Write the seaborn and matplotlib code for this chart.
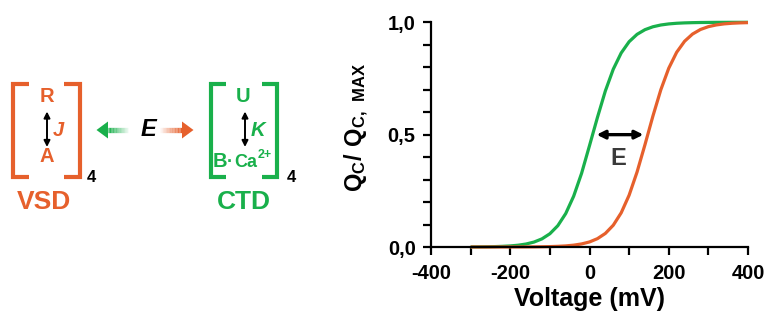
import numpy as np
import pandas as pd
import matplotlib
matplotlib.use("Agg")
import matplotlib.pyplot as plt
import matplotlib.ticker as mticker
from matplotlib.patches import Polygon
import seaborn as sns

# ---------------- data ----------------
voltage = list(range(-300, 401, 20))
q_green = [0.0004, 0.0006, 0.0010, 0.0017, 0.0029, 0.0048, 0.0080, 0.0133, 0.0220,
           0.0362, 0.0590, 0.0948, 0.1489, 0.2260, 0.3278, 0.4511, 0.5764, 0.6945,
           0.7914, 0.8636, 0.9137, 0.9464, 0.9672, 0.9801, 0.9880, 0.9928, 0.9957,
           0.9974, 0.9984, 0.9991, 0.9994, 0.9997, 0.9998, 0.9999, 0.9999, 1.0]
q_orange = [0.0000, 0.0000, 0.0000, 0.0001, 0.0001, 0.0001, 0.0002, 0.0004, 0.0006,
            0.0011, 0.0018, 0.0030, 0.0049, 0.0082, 0.0136, 0.0225, 0.0371, 0.0604,
            0.0970, 0.1522, 0.2306, 0.3336, 0.4554, 0.5825, 0.6998, 0.7956, 0.8667,
            0.9157, 0.9477, 0.9680, 0.9806, 0.9883, 0.9930, 0.9958, 0.9975, 0.9985]
series_names = ["CTD", "VSD"]
x_ticks = [-400, -200, 0, 200, 400]
y_ticks = [0.0, 0.5, 1.0]
shift_arrow = [18, 136]   # E arrow span at Q = 0.5

GREEN = "#19B04B"
ORANGE = "#E6602C"

df = pd.DataFrame({
    "Voltage": voltage * 2,
    "Q": q_green + q_orange,
    "series": [series_names[0]] * len(voltage) + [series_names[1]] * len(voltage),
})

sns.set_theme(style="ticks")
plt.rcParams["font.family"] = ["Liberation Sans", "DejaVu Sans"]
plt.rcParams["font.weight"] = "bold"
plt.rcParams["axes.unicode_minus"] = False
plt.rcParams["mathtext.fontset"] = "custom"
plt.rcParams["mathtext.bf"] = "Liberation Sans:bold"
plt.rcParams["mathtext.rm"] = "Liberation Sans:bold"

W, H = 765, 320
fig = plt.figure(figsize=(W / 100, H / 100), dpi=100)

# ---------------- diagram (left) ----------------
axd = fig.add_axes([0, 0, 1, 1], zorder=0)
axd.set_xlim(0, W)
axd.set_ylim(H, 0)
axd.axis("off")

blw = 3.0
def bracket(xl, xr, top, bot, serif, color):
    axd.plot([xl + serif, xl, xl, xl + serif], [top, top, bot, bot], color=color,
             lw=blw, solid_joinstyle="miter", solid_capstyle="butt")
    axd.plot([xr - serif, xr, xr, xr - serif], [top, top, bot, bot], color=color,
             lw=blw, solid_joinstyle="miter", solid_capstyle="butt")

bracket(13.5, 80, 83.5, 176.5, 16, ORANGE)
bracket(211, 277, 83.5, 176.5, 15, GREEN)

def vdarrow(x, y0, y1):
    axd.annotate("", xy=(x, y0), xytext=(x, y1),
                 arrowprops=dict(arrowstyle="<|-|>", color="black", lw=1.4,
                                 mutation_scale=9, shrinkA=0, shrinkB=0))

vdarrow(47, 111.5, 147)
vdarrow(245, 111.5, 147)

tk = dict(ha="center", va="center", fontweight="bold")
axd.text(46.5, 97, "R", color=ORANGE, fontsize=14.5, **tk)
axd.text(46.5, 157, "A", color=ORANGE, fontsize=14.5, **tk)
axd.text(58, 130, "J", color=ORANGE, fontsize=14.5, style="italic", **tk)
axd.text(91, 177, "4", color="black", fontsize=12, **tk)
axd.text(44, 202, "VSD", color=ORANGE, fontsize=19, **tk)

axd.text(243.5, 97, "U", color=GREEN, fontsize=14.5, **tk)
axd.text(258, 130, "K", color=GREEN, fontsize=14.5, style="italic", **tk)
axd.text(213, 167, "B", color=GREEN, fontsize=14.5, ha="left", va="baseline",
         fontweight="bold")
axd.text(230, 162, "\u00b7", color=GREEN, fontsize=13, ha="center", va="center",
         fontweight="bold")
axd.text(234.5, 167, "Ca", color=GREEN, fontsize=13, ha="left", va="baseline",
         fontweight="bold")
axd.text(257.5, 157.5, "2+", color=GREEN, fontsize=9, ha="left", va="baseline",
         fontweight="bold")
axd.text(291, 177, "4", color="black", fontsize=12, **tk)
axd.text(244, 202, "CTD", color=GREEN, fontsize=19, **tk)

axd.text(148, 130, "E", color="black", fontsize=17, style="italic", **tk)

def grad_arrow(tip, base, tail, y, color):
    axd.add_patch(Polygon([[tip, y], [base, y - 8.5], [base, y + 8.5]], closed=True,
                          facecolor=color, edgecolor="none"))
    n = 14
    xs = np.linspace(base, tail, n + 1)
    for i in range(n):
        a = 1.0 - i / n
        axd.plot([xs[i], xs[i + 1]], [y, y], color=color, lw=3.8, alpha=a,
                 solid_capstyle="butt")

grad_arrow(96.5, 108, 128, 130, GREEN)
grad_arrow(193.5, 182, 160, 130, ORANGE)

# ---------------- plot (right) ----------------
ax = fig.add_axes([431 / W, 1 - 247 / H, 317 / W, 224.7 / H], zorder=1)
ax.patch.set_alpha(0)
sns.lineplot(data=df, x="Voltage", y="Q", hue="series",
             palette={series_names[0]: GREEN, series_names[1]: ORANGE},
             linewidth=2.3, legend=False, ax=ax)
for ln in ax.lines:
    ln.set_clip_on(False)
    ln.set_solid_capstyle("butt")

ax.set_xlim(-400, 400)
ax.set_ylim(0, 1)
ax.set_xticks(x_ticks)
ax.set_yticks(y_ticks)
ax.xaxis.set_minor_locator(mticker.MultipleLocator(100))
ax.yaxis.set_minor_locator(mticker.MultipleLocator(0.1))
ax.yaxis.set_major_formatter(mticker.FuncFormatter(lambda v, p: f"{v:.1f}".replace(".", ",")))
ax.xaxis.set_major_formatter(mticker.FuncFormatter(lambda v, p: f"{int(v)}"))
ax.tick_params(which="both", direction="out", length=6, width=1.6, color="black")
ax.tick_params(axis="y", which="major", labelsize=14.5, pad=5, labelcolor="black")
ax.tick_params(axis="x", which="major", labelsize=14.5, pad=6, labelcolor="black")
for lab in ax.get_xticklabels() + ax.get_yticklabels():
    lab.set_fontweight("bold")
sns.despine(ax=ax)
for s in ["left", "bottom"]:
    ax.spines[s].set_linewidth(1.6)
    ax.spines[s].set_color("black")

ax.set_xlabel("Voltage (mV)", fontsize=18, fontweight="bold", color="black", labelpad=3)
ax.set_ylabel(r"$\mathbf{Q_C/\ Q_{C,\ MAX}}$", fontsize=17, color="black")
ax.yaxis.set_label_coords(-0.19, 0.53)

ax.annotate("", xy=(shift_arrow[0], 0.5), xytext=(shift_arrow[1], 0.5),
            arrowprops=dict(arrowstyle="<|-|>", color="black", lw=2.4,
                            mutation_scale=12, shrinkA=0, shrinkB=0))
ax.text(73, 0.395, "E", color="#3a3a3a", fontsize=17, fontweight="bold",
        ha="center", va="center")

fig.savefig("out.png", dpi=100)
